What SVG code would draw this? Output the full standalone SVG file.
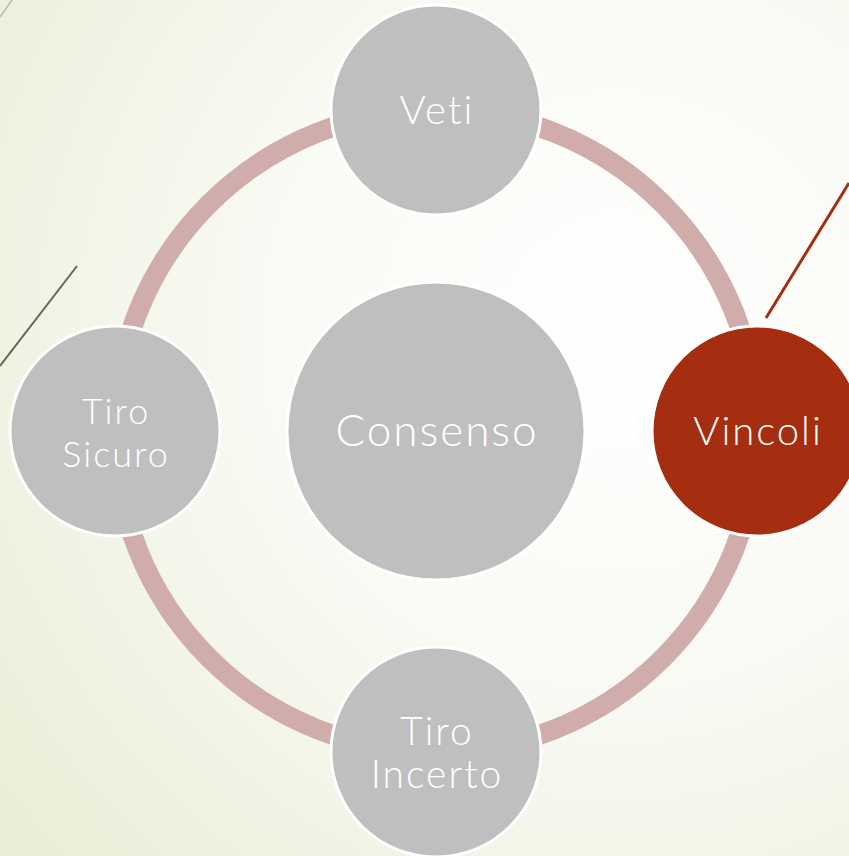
<svg xmlns="http://www.w3.org/2000/svg" width="849" height="856" viewBox="0 0 849 856">
<defs>
<radialGradient id="bg" cx="620" cy="330" r="800" gradientUnits="userSpaceOnUse">
<stop offset="0" stop-color="#ffffff"/>
<stop offset="0.45" stop-color="#f9faf4"/>
<stop offset="1" stop-color="#e8eed6"/>
</radialGradient>
<style>
.node{fill:#bfbfbf;stroke:#ffffff;stroke-width:3}
.hot{fill:#a52d10;stroke:#ffffff;stroke-width:3}
.lbl{font-family:Lato,"Liberation Sans",sans-serif;font-weight:300;fill:#ffffff;text-anchor:middle;letter-spacing:2px}
</style>
</defs>
<rect x="0" y="0" width="849" height="856" fill="url(#bg)"/>
<line x1="0" y1="17" x2="12" y2="0" stroke="#b9bca8" stroke-width="1.5"/>
<line x1="0" y1="366" x2="77" y2="266" stroke="#6b6450" stroke-width="2"/>
<line x1="766" y1="318" x2="849" y2="183" stroke="#a52d10" stroke-width="3"/>
<g id="connectors">
<circle cx="436" cy="431" r="321" fill="none" stroke="#d0adab" stroke-width="20"/>
</g>
<g id="consenso">
<circle class="node" cx="436" cy="431" r="149"/>
<text class="lbl" x="437" y="446" font-size="44">Consenso</text>
</g>
<g id="veti">
<circle class="node" cx="436" cy="110" r="105"/>
<text class="lbl" x="437" y="124" font-size="40">Veti</text>
</g>
<g id="vincoli">
<circle class="hot" cx="757" cy="431" r="105"/>
<text class="lbl" x="758" y="445" font-size="40">Vincoli</text>
</g>
<g id="tiro-incerto">
<circle class="node" cx="436" cy="752" r="105"/>
<text class="lbl" x="437" y="745" font-size="39">Tiro</text>
<text class="lbl" x="437" y="788" font-size="39">Incerto</text>
</g>
<g id="tiro-sicuro">
<circle class="node" cx="115" cy="431" r="105"/>
<text class="lbl" x="116" y="424" font-size="36">Tiro</text>
<text class="lbl" x="116" y="467" font-size="36">Sicuro</text>
</g>
</svg>
